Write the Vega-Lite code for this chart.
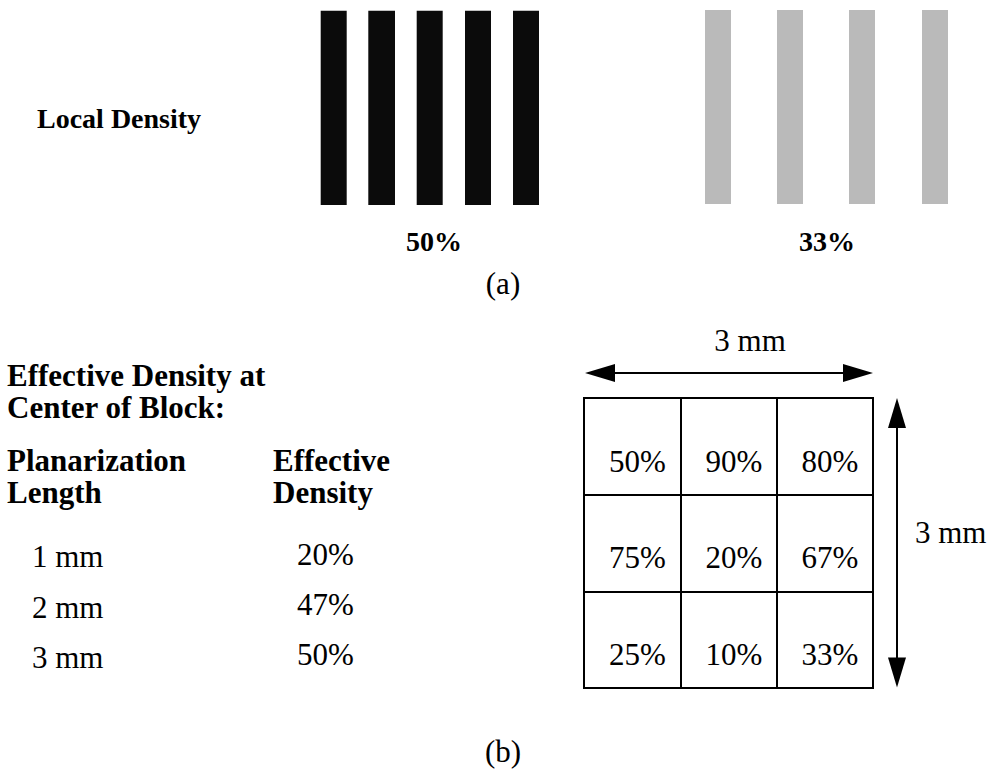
{
  "$schema": "https://vega.github.io/schema/vega-lite/v6.json",
  "width": 993,
  "height": 771,
  "padding": 0,
  "autosize": {"type": "fit", "contains": "padding"},
  "background": "white",
  "config": {"view": {"stroke": null}},
  "layer": [
    {
      "data": {"values": [
        {"sample": "50%", "x": 320.7, "x2": 346.7, "y": 10.7, "y2": 205},
        {"sample": "50%", "x": 368.3, "x2": 395, "y": 10.7, "y2": 205},
        {"sample": "50%", "x": 416.7, "x2": 442.7, "y": 10.7, "y2": 205},
        {"sample": "50%", "x": 465, "x2": 491, "y": 10.7, "y2": 205},
        {"sample": "50%", "x": 513, "x2": 539, "y": 10.7, "y2": 205},
        {"sample": "33%", "x": 705, "x2": 731, "y": 10, "y2": 204},
        {"sample": "33%", "x": 777, "x2": 803, "y": 10, "y2": 204},
        {"sample": "33%", "x": 849, "x2": 875, "y": 10, "y2": 204},
        {"sample": "33%", "x": 922, "x2": 948, "y": 10, "y2": 204}
      ]},
      "mark": {"type": "rect"},
      "encoding": {
        "x": {"field": "x", "type": "quantitative", "scale": {"domain": [0, 993], "nice": false, "zero": false}, "axis": null},
        "x2": {"field": "x2"},
        "y": {"field": "y", "type": "quantitative", "scale": {"domain": [0, 771], "nice": false, "zero": false, "reverse": true}, "axis": null},
        "y2": {"field": "y2"},
        "color": {"field": "sample", "type": "nominal", "scale": {"domain": ["50%", "33%"], "range": ["#0b0b0b", "#bababa"]}, "legend": null}
      }
    },
    {
      "data": {"name": "grid", "values": [
        {"density": "50%", "x": 584, "x2": 681, "y": 398, "y2": 495, "tx": 637.5, "ty": 472},
        {"density": "90%", "x": 681, "x2": 777, "y": 398, "y2": 495, "tx": 734, "ty": 472},
        {"density": "80%", "x": 777, "x2": 873, "y": 398, "y2": 495, "tx": 830, "ty": 472},
        {"density": "75%", "x": 584, "x2": 681, "y": 495, "y2": 592, "tx": 637.5, "ty": 568},
        {"density": "20%", "x": 681, "x2": 777, "y": 495, "y2": 592, "tx": 734, "ty": 568},
        {"density": "67%", "x": 777, "x2": 873, "y": 495, "y2": 592, "tx": 830, "ty": 568},
        {"density": "25%", "x": 584, "x2": 681, "y": 592, "y2": 688, "tx": 637.5, "ty": 665},
        {"density": "10%", "x": 681, "x2": 777, "y": 592, "y2": 688, "tx": 734, "ty": 665},
        {"density": "33%", "x": 777, "x2": 873, "y": 592, "y2": 688, "tx": 830, "ty": 665}
      ]},
      "layer": [
        {
          "mark": {"type": "rect", "fill": "white", "stroke": "black", "strokeWidth": 2},
          "encoding": {
            "x": {"field": "x", "type": "quantitative", "scale": {"domain": [0, 993], "nice": false, "zero": false}, "axis": null},
            "x2": {"field": "x2"},
            "y": {"field": "y", "type": "quantitative", "scale": {"domain": [0, 771], "nice": false, "zero": false, "reverse": true}, "axis": null},
            "y2": {"field": "y2"}
          }
        },
        {
          "mark": {"type": "text", "font": "Liberation Serif", "fontSize": 31, "align": "center", "baseline": "alphabetic", "color": "black"},
          "encoding": {
            "x": {"field": "tx", "type": "quantitative", "scale": {"domain": [0, 993], "nice": false, "zero": false}, "axis": null},
            "y": {"field": "ty", "type": "quantitative", "scale": {"domain": [0, 771], "nice": false, "zero": false, "reverse": true}, "axis": null},
            "text": {"field": "density"}
          }
        }
      ]
    },
    {
      "data": {"values": [
        {"arrow": "width", "x": 590, "x2": 868, "y": 373, "y2": 373},
        {"arrow": "height", "x": 897, "x2": 897, "y": 403, "y2": 683}
      ]},
      "mark": {"type": "rule", "color": "black", "strokeWidth": 2},
      "encoding": {
        "x": {"field": "x", "type": "quantitative", "scale": {"domain": [0, 993], "nice": false, "zero": false}, "axis": null},
        "x2": {"field": "x2"},
        "y": {"field": "y", "type": "quantitative", "scale": {"domain": [0, 771], "nice": false, "zero": false, "reverse": true}, "axis": null},
        "y2": {"field": "y2"}
      }
    },
    {
      "data": {"values": [
        {"dir": "left", "x": 600, "y": 373},
        {"dir": "right", "x": 858, "y": 373},
        {"dir": "up", "x": 897, "y": 413},
        {"dir": "down", "x": 897, "y": 672.5}
      ]},
      "mark": {"type": "point", "filled": true, "size": 900, "color": "black", "opacity": 1, "strokeWidth": 0},
      "encoding": {
        "x": {"field": "x", "type": "quantitative", "scale": {"domain": [0, 993], "nice": false, "zero": false}, "axis": null},
        "y": {"field": "y", "type": "quantitative", "scale": {"domain": [0, 771], "nice": false, "zero": false, "reverse": true}, "axis": null},
        "shape": {"field": "dir", "type": "nominal", "scale": {"domain": ["left", "right", "up", "down"], "range": ["M-1,0L1,-0.6L1,0.6Z", "M1,0L-1,-0.6L-1,0.6Z", "M0,-1L-0.6,1L0.6,1Z", "M0,1L-0.6,-1L0.6,-1Z"]}, "legend": null}
      }
    },
    {
      "data": {"values": [
        {"label": "Local Density", "x": 37, "y": 128}
      ]},
      "mark": {"type": "text", "font": "Liberation Serif", "fontWeight": "bold", "fontSize": 28, "align": "left", "baseline": "alphabetic", "color": "black"},
      "encoding": {
        "x": {"field": "x", "type": "quantitative", "scale": {"domain": [0, 993], "nice": false, "zero": false}, "axis": null},
        "y": {"field": "y", "type": "quantitative", "scale": {"domain": [0, 771], "nice": false, "zero": false, "reverse": true}, "axis": null},
        "text": {"field": "label"}
      }
    },
    {
      "data": {"values": [
        {"label": "50%", "x": 434, "y": 251},
        {"label": "33%", "x": 827, "y": 251}
      ]},
      "mark": {"type": "text", "font": "Liberation Serif", "fontWeight": "bold", "fontSize": 28, "align": "center", "baseline": "alphabetic", "color": "black"},
      "encoding": {
        "x": {"field": "x", "type": "quantitative", "scale": {"domain": [0, 993], "nice": false, "zero": false}, "axis": null},
        "y": {"field": "y", "type": "quantitative", "scale": {"domain": [0, 771], "nice": false, "zero": false, "reverse": true}, "axis": null},
        "text": {"field": "label"}
      }
    },
    {
      "data": {"values": [
        {"label": "Effective Density at\nCenter of Block:", "x": 7, "y": 386, "gap": 31},
        {"label": "Planarization\nLength", "x": 7, "y": 471, "gap": 33},
        {"label": "Effective\nDensity", "x": 273, "y": 471, "gap": 33}
      ]},
      "mark": {"type": "text", "font": "Liberation Serif", "fontWeight": "bold", "fontSize": 31, "align": "left", "baseline": "alphabetic", "color": "black", "lineBreak": "\n", "lineHeight": 32},
      "encoding": {
        "x": {"field": "x", "type": "quantitative", "scale": {"domain": [0, 993], "nice": false, "zero": false}, "axis": null},
        "y": {"field": "y", "type": "quantitative", "scale": {"domain": [0, 771], "nice": false, "zero": false, "reverse": true}, "axis": null},
        "text": {"field": "label"}
      }
    },
    {
      "data": {"values": [
        {"label": "1 mm", "x": 32, "y": 567},
        {"label": "2 mm", "x": 32, "y": 618},
        {"label": "3 mm", "x": 32, "y": 668},
        {"label": "20%", "x": 297, "y": 565},
        {"label": "47%", "x": 297, "y": 615},
        {"label": "50%", "x": 297, "y": 665},
        {"label": "3 mm", "x": 915, "y": 543}
      ]},
      "mark": {"type": "text", "font": "Liberation Serif", "fontSize": 31, "align": "left", "baseline": "alphabetic", "color": "black"},
      "encoding": {
        "x": {"field": "x", "type": "quantitative", "scale": {"domain": [0, 993], "nice": false, "zero": false}, "axis": null},
        "y": {"field": "y", "type": "quantitative", "scale": {"domain": [0, 771], "nice": false, "zero": false, "reverse": true}, "axis": null},
        "text": {"field": "label"}
      }
    },
    {
      "data": {"values": [
        {"label": "3 mm", "x": 750, "y": 351},
        {"label": "(a)", "x": 503, "y": 294},
        {"label": "(b)", "x": 503, "y": 762}
      ]},
      "mark": {"type": "text", "font": "Liberation Serif", "fontSize": 31, "align": "center", "baseline": "alphabetic", "color": "black"},
      "encoding": {
        "x": {"field": "x", "type": "quantitative", "scale": {"domain": [0, 993], "nice": false, "zero": false}, "axis": null},
        "y": {"field": "y", "type": "quantitative", "scale": {"domain": [0, 771], "nice": false, "zero": false, "reverse": true}, "axis": null},
        "text": {"field": "label"}
      }
    }
  ]
}
